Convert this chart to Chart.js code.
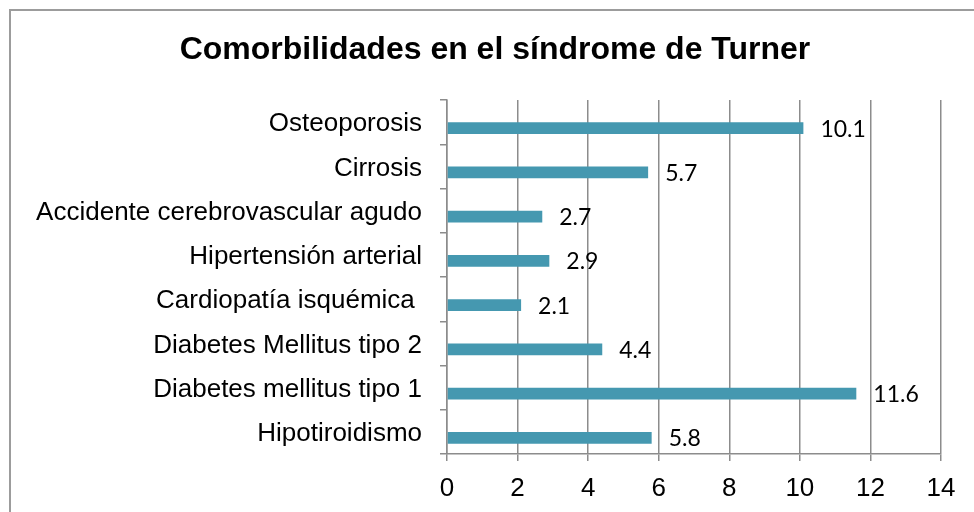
<!DOCTYPE html>
<html>
<head>
<meta charset="utf-8">
<script src="https://cdn.jsdelivr.net/npm/chart.js@4.4.0/dist/chart.umd.min.js"></script>
<style>
  html, body { margin: 0; padding: 0; background: #fff; overflow: hidden; }
  #wrap { position: relative; width: 974px; height: 512px; }
  #frame {
    position: absolute; left: 9px; top: 9px; width: 1000px; height: 600px;
    border: 2px solid #9c9c9c; pointer-events: none;
  }
  canvas { position: absolute; left: 0; top: 0; }
</style>
</head>
<body>
<div id="wrap">
  <canvas id="chart" width="974" height="512"></canvas>
  <div id="frame"></div>
</div>
<script>
'use strict';

var chartTitle = 'Comorbilidades en el síndrome de Turner';

// categories, top to bottom
var categories = [
  'Osteoporosis',
  'Cirrosis',
  'Accidente cerebrovascular agudo',
  'Hipertensión arterial',
  'Cardiopatía isquémica ',
  'Diabetes Mellitus tipo 2',
  'Diabetes mellitus tipo 1',
  'Hipotiroidismo'
];
var values = [10.1, 5.7, 2.7, 2.9, 2.1, 4.4, 11.6, 5.8];
// empty companion series (takes the upper slot of each group, like the original)
var emptySeries = [null, null, null, null, null, null, null, null];
var xTicks = [0, 2, 4, 6, 8, 10, 12, 14];

var gridGray = '#8c8c8c';
var barColor = '#4598b0';

// title is centred on the framed box, not on the canvas
var titleText = {
  id: 'titleText',
  afterDraw: function (chart) {
    var ctx = chart.ctx;
    ctx.save();
    ctx.font = 'bold 32px "Liberation Sans"';
    ctx.fillStyle = '#000';
    ctx.textAlign = 'center';
    ctx.textBaseline = 'middle';
    ctx.fillText(chartTitle, 495, 50);
    ctx.restore();
  }
};

var valueLabels = {
  id: 'valueLabels',
  afterDatasetsDraw: function (chart) {
    var ctx = chart.ctx;
    var meta = chart.getDatasetMeta(1);
    ctx.save();
    ctx.font = '23px Lato';
    ctx.fillStyle = '#000';
    ctx.textAlign = 'left';
    ctx.textBaseline = 'middle';
    meta.data.forEach(function (bar, i) {
      ctx.fillText(String(values[i]), bar.x + 17, bar.y + 1);
    });
    ctx.restore();
  }
};

new Chart(document.getElementById('chart'), {
  type: 'bar',
  data: {
    labels: categories,
    datasets: [
      { data: emptySeries, backgroundColor: barColor },
      { data: values, backgroundColor: barColor }
    ]
  },
  options: {
    indexAxis: 'y',
    responsive: false,
    animation: false,
    devicePixelRatio: 1,
    categoryPercentage: 0.542,
    barPercentage: 1,
    layout: { padding: { left: 0, right: 33, top: 100, bottom: 0 } },
    plugins: {
      legend: { display: false },
      tooltip: { enabled: false },
      title: { display: false }
    },
    scales: {
      x: {
        min: 0,
        max: 14,
        afterFit: function (scale) { scale.height = 58; },
        afterBuildTicks: function (scale) {
          scale.ticks = xTicks.map(function (v) { return { value: v }; });
        },
        grid: { color: gridGray, lineWidth: 1.5, tickLength: 7 },
        border: { color: gridGray, width: 1.5 },
        ticks: {
          color: '#000',
          padding: 12,
          font: { family: 'Liberation Sans', size: 26 }
        }
      },
      y: {
        afterFit: function (scale) { scale.width = 447; },
        grid: { drawOnChartArea: false, color: gridGray, lineWidth: 1.5, tickLength: 7 },
        border: { color: gridGray, width: 1.5 },
        ticks: {
          color: '#000',
          padding: 18,
          labelOffset: 2,
          autoSkip: false,
          font: { family: 'Liberation Sans', size: 26 }
        }
      }
    }
  },
  plugins: [valueLabels, titleText]
});
</script>
</body>
</html>
